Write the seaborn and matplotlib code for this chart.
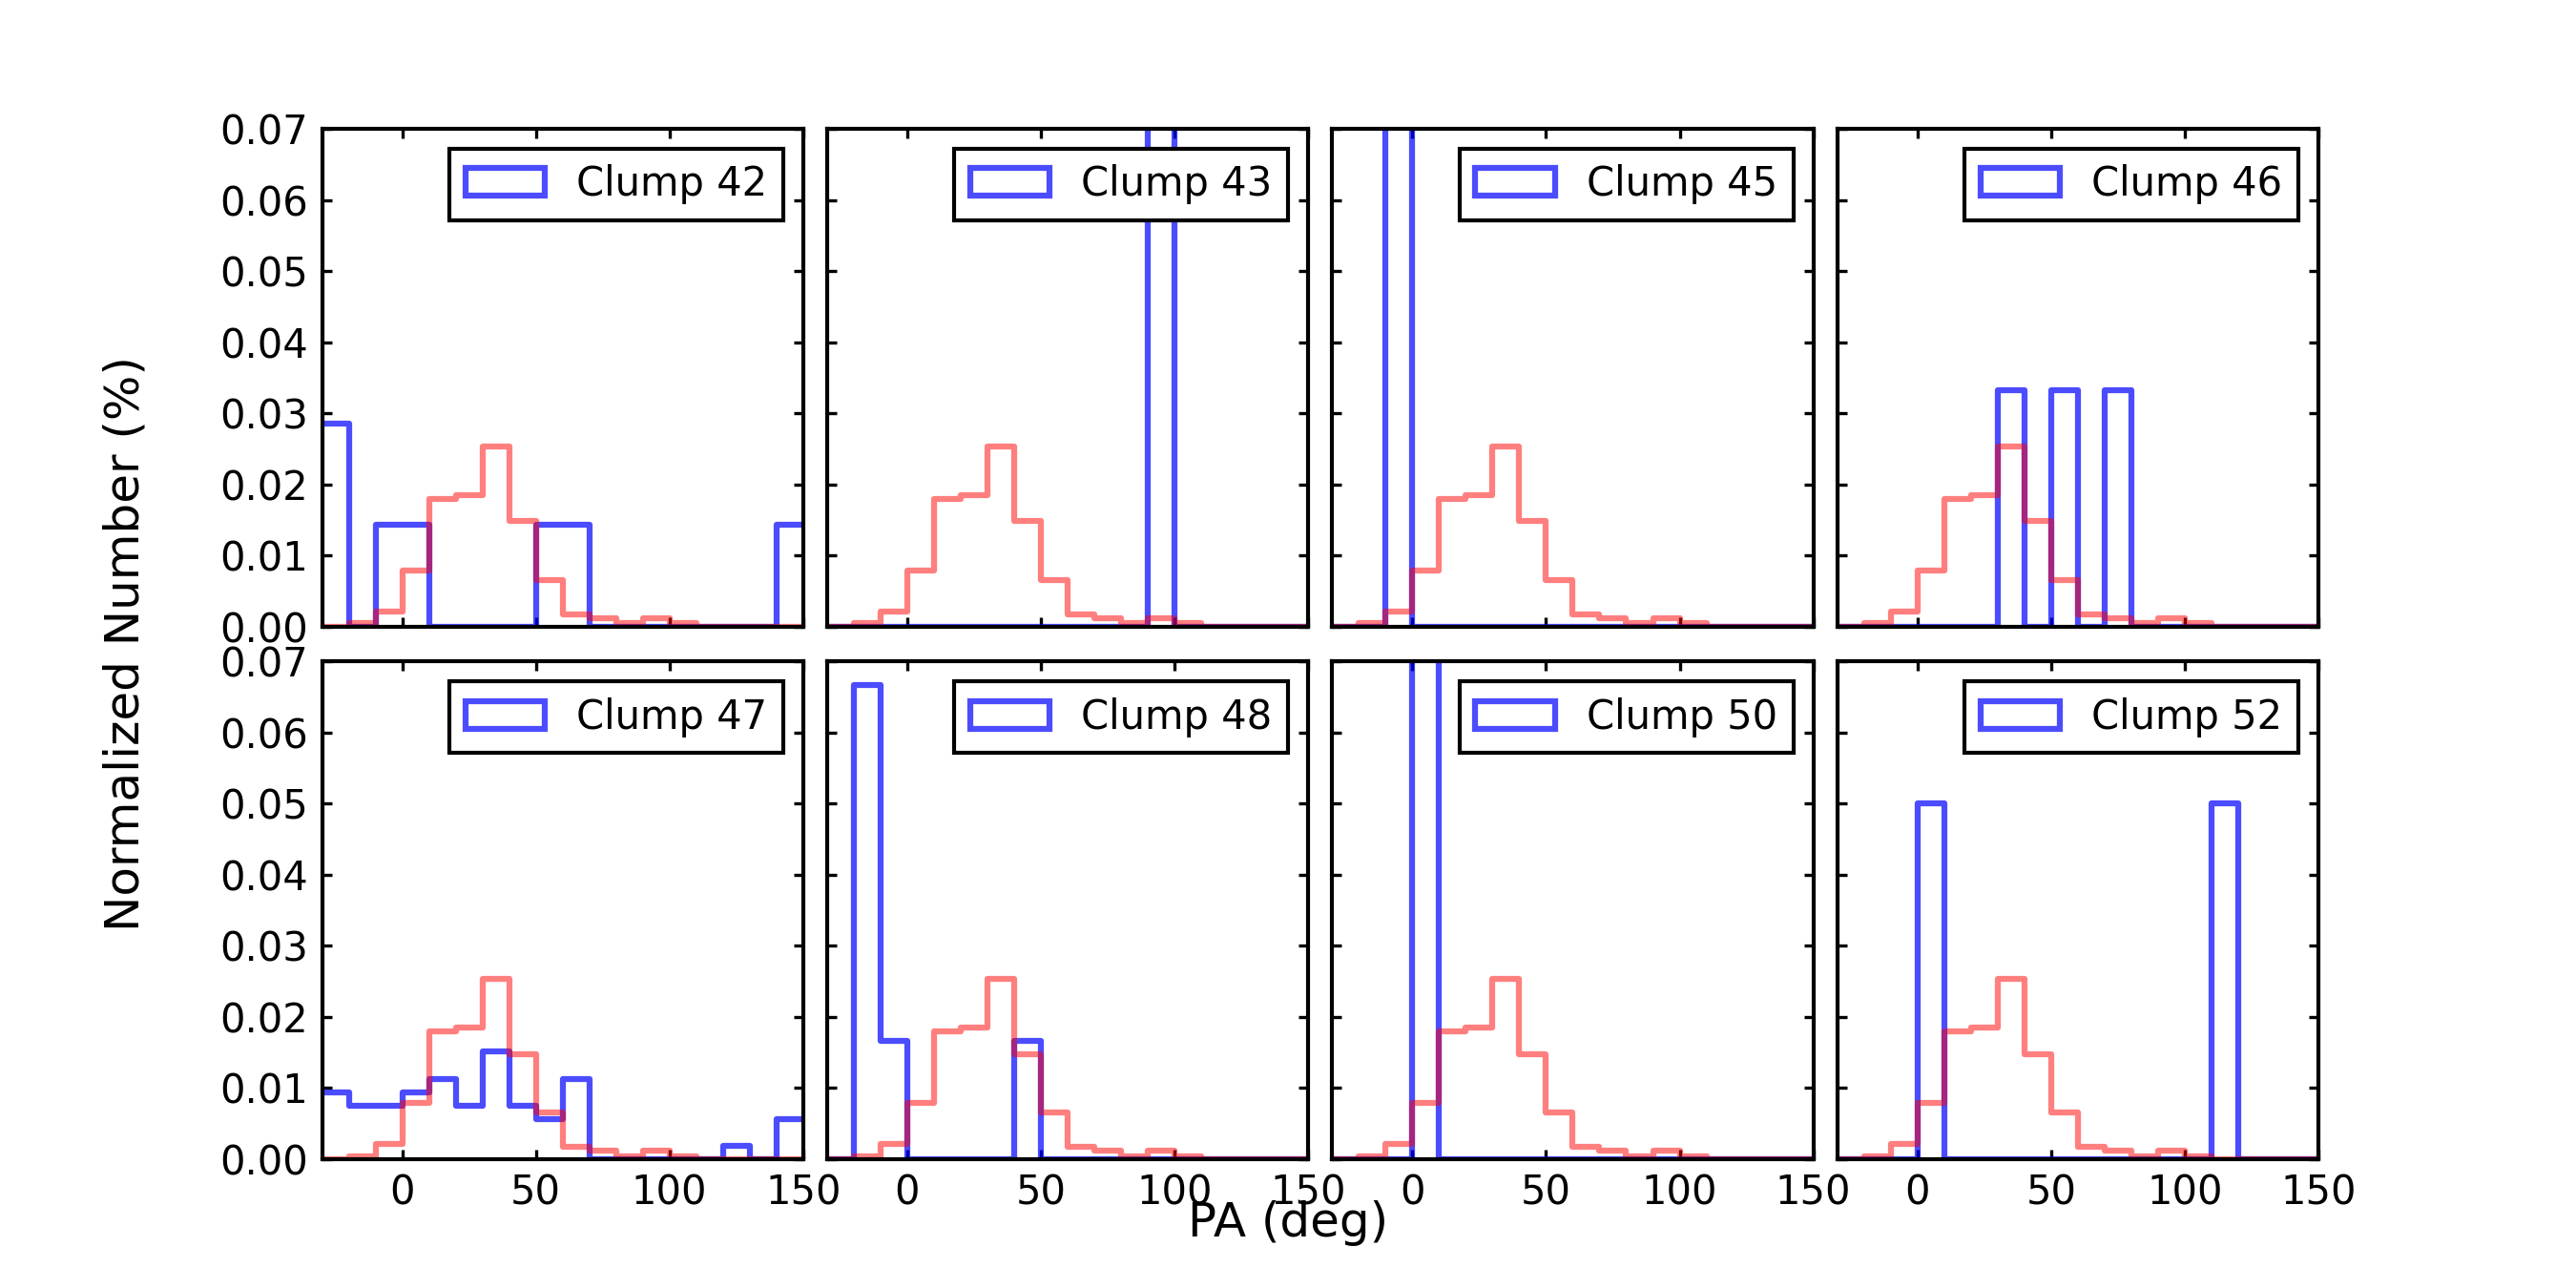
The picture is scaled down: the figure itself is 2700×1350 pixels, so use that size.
import numpy as np
import pandas as pd
import matplotlib
matplotlib.use("Agg")
import matplotlib.pyplot as plt
from matplotlib.patches import Patch
from matplotlib.ticker import FormatStrFormatter
import seaborn as sns

# 10 deg bins from -30 to 150
bin_width = 10
bin_range = (-30, 150)
bin_centers = np.arange(-25, 150, 10)

# PA distribution of all clumps (red), one value per bin
all_clumps = [0.0, 0.00045, 0.0021, 0.0079, 0.0180, 0.0185, 0.0253, 0.0148, 0.0066,
              0.0017, 0.0012, 0.00045, 0.0012, 0.00045, 0.0, 0.0, 0.0, 0.0]

# single clumps (blue)
clump42 = [0.0286, 0, 0.0143, 0.0143, 0, 0, 0, 0, 0.0143, 0.0143, 0, 0, 0, 0, 0, 0, 0, 0.0143]
clump43 = [0, 0, 0, 0, 0, 0, 0, 0, 0, 0, 0, 0, 0.1, 0, 0, 0, 0, 0]
clump45 = [0, 0, 0.1, 0, 0, 0, 0, 0, 0, 0, 0, 0, 0, 0, 0, 0, 0, 0]
clump46 = [0, 0, 0, 0, 0, 0, 0.0333, 0, 0.0333, 0, 0.0333, 0, 0, 0, 0, 0, 0, 0]
clump47 = [0.0094, 0.0075, 0.0075, 0.0094, 0.0113, 0.0075, 0.0151, 0.0075, 0.0057,
           0.0113, 0, 0, 0, 0, 0, 0.0019, 0, 0.0057]
clump48 = [0, 0.0667, 0.0167, 0, 0, 0, 0, 0.0167, 0, 0, 0, 0, 0, 0, 0, 0, 0, 0]
clump50 = [0, 0, 0, 0.1, 0, 0, 0, 0, 0, 0, 0, 0, 0, 0, 0, 0, 0, 0]
clump52 = [0, 0, 0, 0.05, 0, 0, 0, 0, 0, 0, 0, 0, 0, 0, 0.05, 0, 0, 0]

clump_names = ["Clump 42", "Clump 43", "Clump 45", "Clump 46",
               "Clump 47", "Clump 48", "Clump 50", "Clump 52"]
clump_values = [clump42, clump43, clump45, clump46, clump47, clump48, clump50, clump52]

sns.set_style("ticks")
plt.rcParams["font.family"] = ["DejaVu Sans"]
plt.rcParams["font.size"] = 10
plt.rcParams["text.color"] = "black"
plt.rcParams["axes.labelcolor"] = "black"

fig, axes = plt.subplots(2, 4, figsize=(9, 4.5), sharex=True, sharey=True)
fig.subplots_adjust(left=0.125, right=0.9, bottom=0.1, top=0.9, wspace=0.05, hspace=0.07)

all_df = pd.DataFrame({"pa": bin_centers, "w": all_clumps})

lw = 1.5
for ax, name, vals in zip(axes.flat, clump_names, clump_values):
    df = pd.DataFrame({"pa": bin_centers, "w": vals})
    sns.histplot(data=df, x="pa", weights="w", binwidth=bin_width, binrange=bin_range,
                 element="step", fill=False, color="blue", alpha=0.7, linewidth=lw, ax=ax)
    sns.histplot(data=all_df, x="pa", weights="w", binwidth=bin_width, binrange=bin_range,
                 element="step", fill=False, color="red", alpha=0.5, linewidth=lw, ax=ax)
    ax.set_xlim(-30, 150)
    ax.set_ylim(0, 0.07)
    ax.set_xticks([0, 50, 100, 150])
    ax.set_yticks(np.arange(0, 0.071, 0.01))
    ax.yaxis.set_major_formatter(FormatStrFormatter("%.2f"))
    ax.set_xlabel("")
    ax.set_ylabel("")
    ax.tick_params(direction="in", top=True, right=True, length=2.5, width=0.8,
                   pad=3.5, labelsize=10, colors="black")
    for sp in ax.spines.values():
        sp.set_linewidth(1.0)
        sp.set_color("black")
    handle = Patch(facecolor="none", edgecolor="blue", alpha=0.7, linewidth=lw)
    leg = ax.legend([handle], [name], loc="upper right", fancybox=False, framealpha=1,
                    edgecolor="black", fontsize=10, handlelength=2, handleheight=0.7)
    leg.get_frame().set_linewidth(1.0)

fig.text(0.5, 0.04, "PA (deg)", ha="center", fontsize=12, color="black")
fig.text(0.04, 0.5, "Normalized Number (%)", va="center", rotation="vertical",
         fontsize=12, color="black")

fig.savefig("out.png", dpi=300, facecolor="white")
